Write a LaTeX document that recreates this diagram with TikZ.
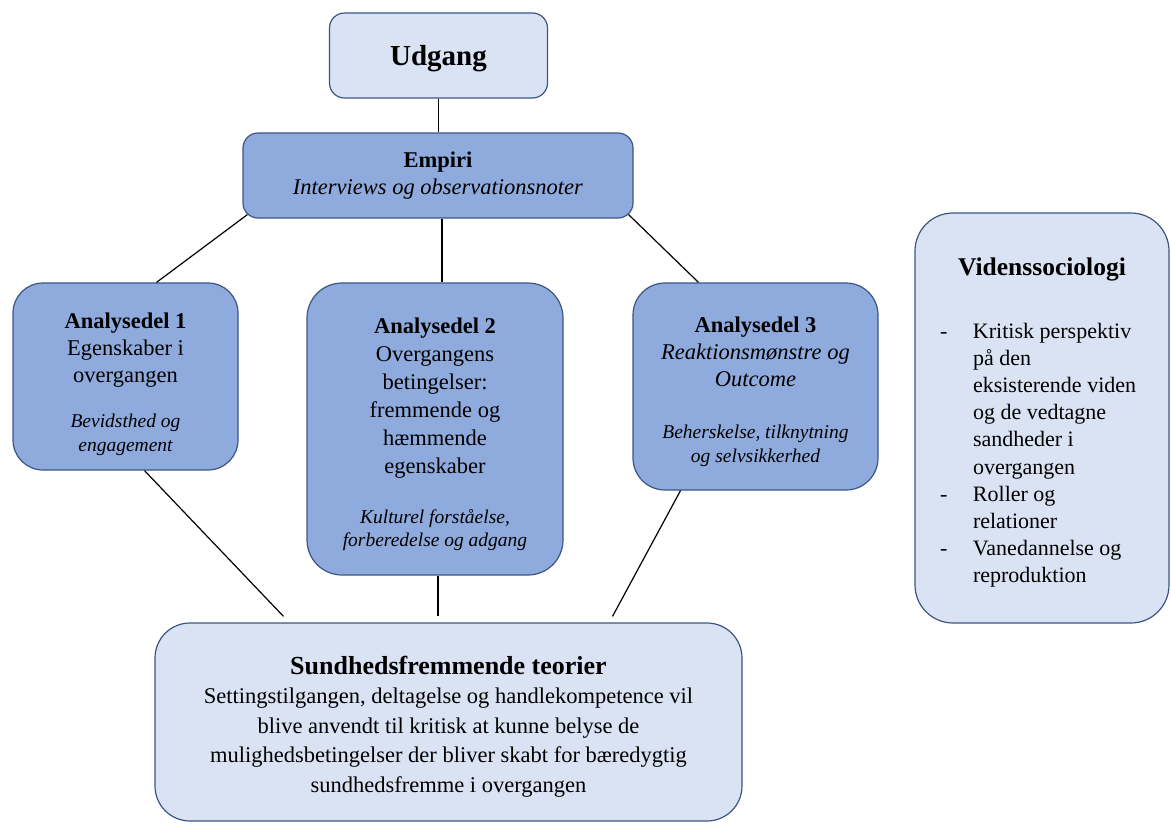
\documentclass[tikz,border=0pt]{standalone}
\usepackage{fontspec}
\setmainfont{Liberation Serif}
\usetikzlibrary{calc}
\definecolor{lysblaa}{HTML}{DAE3F3}
\definecolor{mellemblaa}{HTML}{8FAADC}
\definecolor{kant}{HTML}{3B5683}
\newcommand{\lille}{\fontsize{19.5}{24}\selectfont\itshape}
\newcommand{\ned}[1]{\rule{0pt}{#1}}

\begin{document}
\begin{tikzpicture}[x=1pt, y=-1pt,
    lysboks/.style={draw=kant, line width=1.2pt, fill=lysblaa, align=center, inner sep=0pt, font=\fontsize{22.5}{27}\selectfont},
    moerkboks/.style={lysboks, fill=mellemblaa},
    forbindelse/.style={line width=1.2pt}]
    \useasboundingbox (0,0) rectangle (1171,825);

    % Udgang og empiri
    \node[lysboks, rounded corners=15pt, minimum width=218pt, minimum height=85pt, font=\fontsize{29}{34}\selectfont\bfseries] (udgang) at (438.5,55.5) {\ned{26pt}Udgang};
    \node[moerkboks, rounded corners=15pt, minimum width=390pt, minimum height=85pt] (empiri) at (438,175.5) {\textbf{Empiri}\\\textit{Interviews og observationsnoter}};

    % Analysedele
    \node[moerkboks, rounded corners=30pt, minimum width=225pt, minimum height=187pt] (a1) at (125.5,376.5)
        {\ned{31.5pt}\textbf{Analysedel 1}\\Egenskaber i\\overgangen\\[18pt]{\lille Bevidsthed og}\\[-3pt]{\lille engagement}};
    \node[moerkboks, rounded corners=35pt, minimum width=256pt, minimum height=292pt, font=\fontsize{22.5}{28}\selectfont] (a2) at (435,429)
        {\ned{25.5pt}\textbf{Analysedel 2}\\Overgangens\\betingelser:\\fremmende og\\hæmmende\\egenskaber\\[22pt]{\lille Kulturel forståelse,}\\[-5pt]{\lille forberedelse og adgang}};
    \node[moerkboks, rounded corners=32pt, minimum width=245pt, minimum height=207pt] (a3) at (755.5,386.5)
        {\ned{25.5pt}\textbf{Analysedel 3}\\\textit{Reaktionsmønstre og}\\\textit{Outcome}\\[25pt]{\lille Beherskelse, tilknytning}\\[-3pt]{\lille og selvsikkerhed}};

    % Teori
    \node[lysboks, rounded corners=35pt, minimum width=587pt, minimum height=198pt, font=\fontsize{22.5}{29.5}\selectfont] (sund) at (448.5,722)
        {\ned{27pt}{\fontsize{26}{28}\selectfont\bfseries Sundhedsfremmende teorier}\\Settingstilgangen, deltagelse og handlekompetence vil\\blive anvendt til kritisk at kunne belyse de\\mulighedsbetingelser der bliver skabt for bæredygtig\\sundhedsfremme i overgangen};
    \node[lysboks, rounded corners=38pt, minimum width=254pt, minimum height=410pt, font=\fontsize{22}{27.2}\selectfont] (viden) at (1042,418)
        {\begin{tabular}{@{\hspace{25pt}}p{33pt}@{}p{176pt}@{\hspace{20pt}}}
        \multicolumn{2}{@{}c@{}}{\ned{31pt}\fontsize{25.5}{30}\selectfont\bfseries Videnssociologi}\\[35pt]
        - & Kritisk perspektiv\newline på den\newline eksisterende viden\newline og de vedtagne\newline sandheder i\newline overgangen\\
        - & Roller og\newline relationer\\
        - & Vanedannelse og\newline reproduktion\\
        \end{tabular}};

    % Forbindelser
    \draw[forbindelse] (udgang.south) -- (udgang.south |- empiri.north);
    \draw[forbindelse] ($(empiri.south west)+(5,-4)$) -- ($(a1.north)+(31,0)$);
    \draw[forbindelse] ($(empiri.south)+(4,0)$) -- ($(a2.north)+(7,0)$);
    \draw[forbindelse] ($(empiri.south east)+(-5,-4)$) -- ($(a3.north)+(-57,0)$);
    \draw[forbindelse] ($(a1.south)+(19,0)$) -- ($(sund.north)+(-165,-6)$);
    \draw[forbindelse] ($(a2.south)+(3,0)$) -- ($(a2.south |- sund.north)+(3,-6)$);
    \draw[forbindelse] ($(a3.south)+(-75,0)$) -- ($(sund.north)+(164,-6)$);
\end{tikzpicture}
\end{document}
